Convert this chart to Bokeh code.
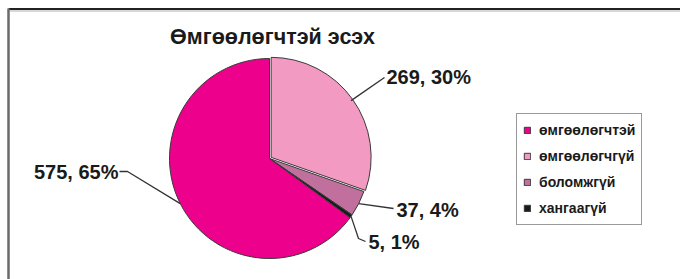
import numpy as np
from bokeh.plotting import figure
from bokeh.models import Range1d, Legend, LegendItem
from bokeh.embed import file_html
from bokeh.resources import INLINE
from bokeh.core.properties import value

# ---- data ----
title_text = "Өмгөөлөгчтэй эсэх"
categories = ["өмгөөлөгчтэй", "өмгөөлөгчгүй", "боломжгүй", "хангаагүй"]
counts = [575, 269, 37, 5]
colors = ["#EC008C", "#F39AC3", "#C1709D", "#1A1A1A"]
draw_order = [1, 2, 3, 0]  # clockwise from 12 o'clock

# ---- layout helpers (page pixels -> plot units) ----
W, H = 680, 279
def X(px):
    return px
def Y(py):
    return H - py

FONT = "Liberation Sans"

p = figure(width=W, height=H, x_range=Range1d(0, W), y_range=Range1d(0, H),
           output_backend="svg", toolbar_location=None, min_border=0)
p.axis.visible = False
p.grid.visible = False
p.outline_line_color = None

# frame lines (top and left)
p.segment(x0=[X(8)], y0=[Y(8.5)], x1=[X(680)], y1=[Y(8.5)], line_color="#222222", line_width=2)
p.segment(x0=[X(9)], y0=[Y(10.5)], x1=[X(680)], y1=[Y(10.5)], line_color="#b0b0b0", line_width=1)
p.segment(x0=[X(8)], y0=[Y(8)], x1=[X(8)], y1=[Y(279)], line_color="#6a6a6a", line_width=2.5)

# ---- pie ----
cx, cy, r = X(269), Y(158), 100
total = float(sum(counts))
starts, ends, mids = {}, {}, {}
a = np.pi / 2
for i in draw_order:
    b = a - counts[i] / total * 2 * np.pi
    starts[i], ends[i] = b, a
    mids[i] = (a + b) / 2
    a = b

explode = {0: 0, 1: 2.0, 2: 0, 3: 0}
renderers = {}
for i in draw_order:
    ox = explode[i] * np.cos(mids[i])
    oy = explode[i] * np.sin(mids[i])
    renderers[i] = p.wedge(x=[cx + ox], y=[cy + oy], radius=r,
                           start_angle=[starts[i]], end_angle=[ends[i]],
                           fill_color=colors[i], line_color="#3a3a3a", line_width=1)

# ---- data labels with leader lines ----
label_pos = {1: (386, 76, "left"), 2: (396, 209, "left"), 3: (368, 241, "left"), 0: (118, 171, "right")}
elbows = {1: [(384, 77)], 2: [(393, 208)], 3: [(358, 238), (365, 241)], 0: [(127, 171), (119, 171)]}
for i in draw_order:
    mx = cx + r * np.cos(mids[i])
    my = cy + r * np.sin(mids[i])
    xs = [mx] + [X(e[0]) for e in elbows[i]]
    ys = [my] + [Y(e[1]) for e in elbows[i]]
    p.line(xs, ys, line_color="#333333", line_width=1.3)
    tx, ty, al = label_pos[i]
    pct = int(round(100 * counts[i] / total))
    p.text(x=[X(tx)], y=[Y(ty)], text=[f"{counts[i]}, {pct}%"],
           text_font=value(FONT), text_font_style="bold", text_font_size="20px",
           text_align=al, text_baseline="middle", text_color="#1a1a1a")

# ---- title ----
p.text(x=[X(272)], y=[Y(36)], text=[title_text], text_font=value(FONT),
       text_font_style="bold", text_font_size="21.5px", text_align="center",
       text_baseline="middle", text_color="#1a1a1a")

# ---- legend ----
legend = Legend(items=[LegendItem(label=categories[i], renderers=[renderers[i]]) for i in range(4)],
                location=(X(516), Y(225)))
legend.label_text_font = FONT
legend.label_text_font_style = "bold"
legend.label_text_font_size = "14px"
legend.label_text_color = "#1a1a1a"
legend.glyph_width = 8
legend.glyph_height = 8
legend.label_height = 20
legend.spacing = 6
legend.padding = 6
legend.margin = 0
legend.label_standoff = 8
legend.border_line_color = "#333333"
legend.border_line_width = 1.5
legend.background_fill_alpha = 1
p.add_layout(legend, "center")

open("out.html", "w").write(file_html(p, INLINE))
